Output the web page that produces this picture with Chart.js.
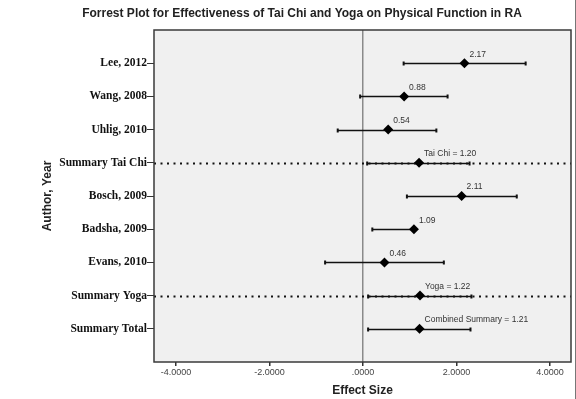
<!DOCTYPE html>
<html>
<head>
<meta charset="utf-8">
<script src="https://cdn.jsdelivr.net/npm/chart.js@4/dist/chart.umd.min.js"></script>
<style>
    body { margin: 0; background: #fff; }
    canvas { display: block; }
</style>
</head>
<body>
<canvas id="forestChart" width="576" height="399"></canvas>
<script>
const studies = ["Lee, 2012", "Wang, 2008", "Uhlig, 2010", "Summary Tai Chi", "Bosch, 2009",
    "Badsha, 2009", "Evans, 2010", "Summary Yoga", "Summary Total"];
const effect = [2.17, 0.88, 0.54, 1.20, 2.11, 1.09, 0.46, 1.22, 1.21];
const lower = [0.87, -0.06, -0.54, 0.09, 0.94, 0.20, -0.81, 0.11, 0.11];
const upper = [3.48, 1.81, 1.57, 2.28, 3.29, 1.09, 1.73, 2.32, 2.30];
const pointLabels = ["2.17", "0.88", "0.54", "Tai Chi = 1.20", "2.11", "1.09", "0.46",
    "Yoga = 1.22", "Combined Summary = 1.21"];
const dottedRows = ["Summary Tai Chi", "Summary Yoga"];
const xTicks = [-4, -2, 0, 2, 4];

const rows = studies.map((s, i) => i + 1);

// background, frame, error bars and dotted summary lines
const forestPlugin = {
    id: "forest",
    beforeDraw(chart) {
        const { ctx, chartArea: a } = chart;
        ctx.save();
        ctx.fillStyle = "#f0f0f0";
        ctx.fillRect(a.left, a.top, a.right - a.left, a.bottom - a.top);
        ctx.restore();
    },
    beforeDatasetsDraw(chart) {
        const { ctx, chartArea: a } = chart;
        const x = chart.scales.x;
        const y = chart.scales.y;
        ctx.save();
        ctx.strokeStyle = "#111";
        for (let i = 0; i < studies.length; i++) {
            const py = Math.round(y.getPixelForValue(rows[i])) + 0.5;
            const x1 = x.getPixelForValue(lower[i]);
            const x2 = x.getPixelForValue(upper[i]);
            ctx.lineWidth = 1.5;
            ctx.setLineDash([]);
            ctx.beginPath();
            ctx.moveTo(x1, py);
            ctx.lineTo(x2, py);
            ctx.stroke();
            ctx.lineWidth = 2;
            ctx.beginPath();
            ctx.moveTo(x1, py - 2);
            ctx.lineTo(x1, py + 2);
            ctx.moveTo(x2, py - 2);
            ctx.lineTo(x2, py + 2);
            ctx.stroke();
            if (dottedRows.includes(studies[i])) {
                ctx.lineWidth = 2;
                ctx.setLineDash([2, 4.5]);
                ctx.beginPath();
                ctx.moveTo(a.left, py);
                ctx.lineTo(a.right, py);
                ctx.stroke();
            }
        }
        ctx.restore();
    },
    afterDatasetsDraw(chart) {
        const { ctx } = chart;
        const x = chart.scales.x;
        const y = chart.scales.y;
        ctx.save();
        ctx.font = "8.5px 'Liberation Sans', Arial, sans-serif";
        ctx.fillStyle = "#333";
        ctx.textAlign = "left";
        ctx.textBaseline = "middle";
        pointLabels.forEach((t, i) => {
            ctx.fillText(t, x.getPixelForValue(effect[i]) + 5, y.getPixelForValue(rows[i]) - 9);
        });
        ctx.restore();
    },
    afterDraw(chart) {
        const { ctx, chartArea: a } = chart;
        ctx.save();
        ctx.strokeStyle = "#3a3a3a";
        ctx.lineWidth = 1.5;
        ctx.strokeRect(a.left, a.top, a.right - a.left, a.bottom - a.top);
        ctx.strokeStyle = "#777";
        ctx.lineWidth = 1;
        ctx.beginPath();
        ctx.moveTo(575.5, 0);
        ctx.lineTo(575.5, chart.height);
        ctx.stroke();
        // chart title
        ctx.font = "bold 12px 'Liberation Sans', Arial, sans-serif";
        ctx.fillStyle = "#222";
        ctx.textAlign = "center";
        ctx.textBaseline = "middle";
        ctx.fillText("Forrest Plot for Effectiveness of Tai Chi and Yoga on Physical Function in RA", 302, 14);
        ctx.restore();
    },
};

const ctx = document.getElementById("forestChart").getContext("2d");
new Chart(ctx, {
    type: "scatter",
    data: {
        datasets: [
            {
                data: effect.map((v, i) => ({ x: v, y: rows[i] })),
                pointStyle: "rectRot",
                radius: 5,
                backgroundColor: "#000",
                borderColor: "#000",
                borderWidth: 0,
            },
        ],
    },
    options: {
        responsive: false,
        animation: false,
        layout: { padding: { top: 30, right: 1, left: 0, bottom: 0 } },
        plugins: {
            legend: { display: false },
            tooltip: { enabled: false },
        },
        scales: {
            x: {
                type: "linear",
                min: -4.47,
                max: 4.45,
                afterBuildTicks: (scale) => {
                    scale.ticks = xTicks.map((v) => ({ value: v }));
                },
                afterFit: (scale) => {
                    scale.height = 37;
                },
                ticks: {
                    padding: 1,
                    color: "#444",
                    font: { family: "'Liberation Sans', Arial, sans-serif", size: 9 },
                    callback: (v) => v.toFixed(4).replace(/^(-?)0\./, "$1."),
                },
                grid: {
                    color: (c) => (c.tick && c.tick.value === 0 ? "#8a8a8a" : "rgba(0,0,0,0)"),
                    lineWidth: 1.5,
                    tickColor: "#333",
                    tickLength: 4,
                },
                border: { display: false },
                title: {
                    display: true,
                    text: "Effect Size",
                    color: "#222",
                    font: { family: "'Liberation Sans', Arial, sans-serif", size: 12, weight: "bold" },
                    padding: { top: 0, bottom: 1 },
                },
            },
            y: {
                type: "linear",
                min: 0,
                max: 10,
                reverse: true,
                afterBuildTicks: (scale) => {
                    scale.ticks = rows.map((v) => ({ value: v }));
                },
                afterFit: (scale) => {
                    scale.width = 154;
                },
                ticks: {
                    autoSkip: false,
                    padding: 0,
                    color: "#111",
                    font: { family: "'Liberation Serif', 'Times New Roman', serif", size: 11.5, weight: "bold" },
                    callback: (v) => studies[v - 1],
                },
                grid: {
                    drawOnChartArea: false,
                    tickColor: "#333",
                    tickLength: 7,
                },
                border: { display: false },
                title: {
                    display: true,
                    text: "Author, Year",
                    color: "#222",
                    font: { family: "'Liberation Sans', Arial, sans-serif", size: 12, weight: "bold" },
                    padding: { top: 40, bottom: 0 },
                },
            },
        },
    },
    plugins: [forestPlugin],
});
</script>
</body>
</html>
